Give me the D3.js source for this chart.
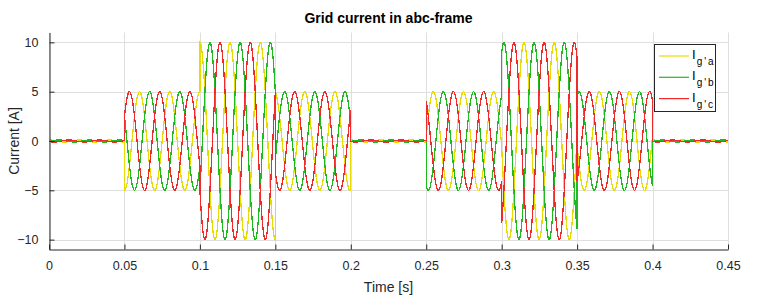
<!DOCTYPE html>
<html>
<head>
<meta charset="utf-8">
<script src="https://cdn.jsdelivr.net/npm/d3@7"></script>
<style>
  html, body { margin: 0; padding: 0; background: #fff; }
  svg { display: block; font-family: "Liberation Sans", Arial, Helvetica, sans-serif; }
</style>
</head>
<body>
<svg id="chart" width="780" height="300"></svg>
<script>
// ---- data ----
const title = "Grid current in abc-frame";
const xLabel = "Time [s]";
const yLabel = "Current [A]";
const xTicks = [0, 0.05, 0.1, 0.15, 0.2, 0.25, 0.3, 0.35, 0.4, 0.45];
const yTicks = [-10, -5, 0, 5, 10];
const xDomain = [0, 0.45];
const yDomain = [-11, 11];

// piecewise segments of the three-phase current
const segStart = [0, 0.05, 0.10, 0.15, 0.20, 0.25, 0.30, 0.35, 0.40];
const segEnd   = [0.05, 0.10, 0.15, 0.20, 0.25, 0.30, 0.35, 0.40, 0.45];
const segAmp   = [0.1, 5, 10, 5, 0.1, 5, 10, 5, 0.1];      // peak amplitude [A]
const segPeakA = [0, 0, 0, 0.0095, 0, 0.0147, 0.0148, 0.0047, 0]; // time of phase-a peak (mod period) [s]
const gridFreq = 50;        // Hz
const sampleStep = 0.0002;  // s

const seriesNames = ["a", "b", "c"];
const seriesLag   = [0, 1/3, 2/3];   // lag of each phase, fraction of a period
const seriesColors = ["#e6dc00", "#1fba1f", "#f02a2a"];

(function () {
// ---- build samples ----
function buildSeries(lagFrac) {
  const pts = [];
  const T = 1 / gridFreq;
  for (let s = 0; s < segStart.length; s++) {
    const t0 = segStart[s], t1 = segEnd[s];
    const n = Math.round((t1 - t0) / sampleStep);
    for (let i = 0; i <= n; i++) {
      const t = t0 + i * sampleStep;
      const v = segAmp[s] * Math.cos(2 * Math.PI * (t - segPeakA[s] - lagFrac * T) / T);
      pts.push([t, v]);
    }
  }
  return pts;
}
const series = seriesLag.map(buildSeries);

// ---- layout ----
const svg = d3.select("#chart");
const pL = 49, pR = 728, pT = 32.5, pB = 249.5;
const x = d3.scaleLinear().domain(xDomain).range([pL, pR]);
const y = d3.scaleLinear().domain(yDomain).range([pB, pT]);

// grid
const grid = svg.append("g");
grid.selectAll("line.vg").data(xTicks).enter().append("line")
  .attr("x1", d => Math.round(x(d)) + 0.5).attr("x2", d => Math.round(x(d)) + 0.5)
  .attr("y1", pT).attr("y2", pB)
  .attr("stroke", "#dfdfdf").attr("stroke-width", 1);
grid.selectAll("line.hg").data(yTicks).enter().append("line")
  .attr("x1", pL).attr("x2", pR)
  .attr("y1", d => Math.round(y(d)) + 0.5).attr("y2", d => Math.round(y(d)) + 0.5)
  .attr("stroke", "#dfdfdf").attr("stroke-width", 1);

// lines
const line = d3.line().x(d => x(d[0])).y(d => y(d[1]));
svg.append("g").selectAll("path").data(series).enter().append("path")
  .attr("d", line)
  .attr("fill", "none")
  .attr("stroke", (d, i) => seriesColors[i])
  .attr("stroke-width", 1.3)
  .attr("shape-rendering", "crispEdges");

// axes
const axisColor = "#262626";
const xAxis = d3.axisBottom(x).tickValues(xTicks).tickFormat(d3.format("~g")).tickSizeInner(-5).tickSizeOuter(0).tickPadding(12);
const gx = svg.append("g").attr("transform", `translate(0,${Math.round(pB) - 0.5})`).call(xAxis);
const yAxis = d3.axisLeft(y).tickValues(yTicks).tickFormat(d3.format("~g")).tickSizeInner(-5).tickSizeOuter(0).tickPadding(11);
const gy = svg.append("g").attr("transform", `translate(${pL + 0.5},0)`).call(yAxis);
[gx, gy].forEach(g => {
  g.select(".domain").attr("stroke", axisColor);
  g.selectAll(".tick line").attr("stroke", axisColor);
  g.selectAll(".tick text").attr("fill", axisColor).style("font-size", "12.5px")
    .style("font-family", '"Liberation Sans", Arial, sans-serif');
});

// labels
svg.append("text").attr("x", (pL + pR) / 2).attr("y", 23)
  .attr("text-anchor", "middle").attr("font-weight", "bold").attr("font-size", "14px")
  .attr("fill", "#000").text(title);
svg.append("text").attr("x", (pL + pR) / 2).attr("y", 292)
  .attr("text-anchor", "middle").attr("font-size", "14px").attr("fill", axisColor).text(xLabel);
svg.append("text").attr("transform", `translate(19,${(pT + pB) / 2}) rotate(-90)`)
  .attr("text-anchor", "middle").attr("font-size", "14px").attr("fill", axisColor).text(yLabel);

// legend
const lg = svg.append("g");
lg.append("rect").attr("x", 654.5).attr("y", 44.5).attr("width", 61).attr("height", 67)
  .attr("fill", "#fff").attr("stroke", axisColor).attr("stroke-width", 1);
seriesNames.forEach((nm, i) => {
  const yy = 56 + i * 21.3;
  lg.append("line").attr("x1", 659).attr("x2", 689).attr("y1", yy).attr("y2", yy)
    .attr("stroke", seriesColors[i]).attr("stroke-width", 1.2);
  const t = lg.append("text").attr("x", 692).attr("y", yy + 3).attr("fill", "#000")
    .attr("font-size", "13px");
  t.append("tspan").text("I");
  t.append("tspan").attr("dy", 6).attr("dx", 1).attr("font-size", "10px").attr("letter-spacing", "2px").text("g'" + nm);
});
})();
</script>
</body>
</html>
